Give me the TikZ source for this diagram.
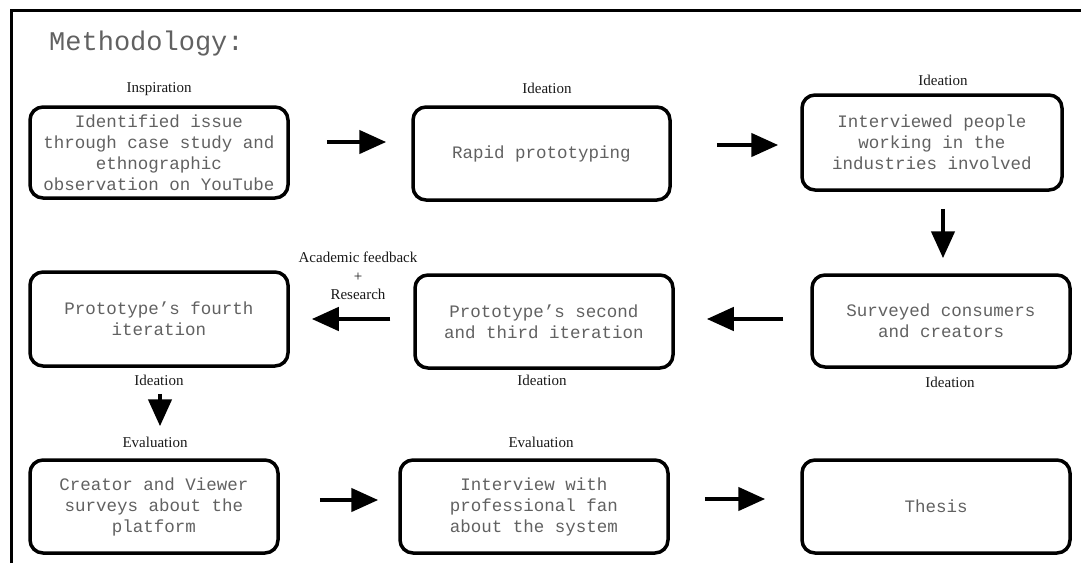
\documentclass[tikz,border=0pt]{standalone}
\usepackage{fontspec}
\setmainfont{Liberation Serif}
\setmonofont{Liberation Mono}
\usetikzlibrary{arrows.meta}
\definecolor{boxtext}{gray}{0.38}
\definecolor{labeltext}{gray}{0.1}
\begin{document}
\begin{tikzpicture}[x=1pt,y=-1pt,
  stepbox/.style={draw, line width=3.5pt, rounded corners=13pt, align=center,
    text=boxtext, font=\fontsize{17.5}{21}\selectfont\ttfamily, inner sep=0pt},
  phase/.style={font=\fontsize{15}{18.5}\selectfont, align=center, inner sep=0pt, text=labeltext},
  flow/.style={line width=4.5pt, -{Triangle[length=27pt,width=23pt]}},
]
\useasboundingbox (0,0) rectangle (1081,563);

% frame: top and left rules
\draw[line width=3pt] (11,563) -- (11,10) -- (1081,10);

% title
\node[anchor=base west, inner sep=0pt, text=boxtext,
      font=\fontsize{27}{30}\selectfont\ttfamily] (title) at (49,50) {Methodology:};

% row 1
\node[stepbox, minimum width=258pt, minimum height=91pt] (b1) at (159,152.5)
  {Identified issue\\through case study and\\ethnographic\\observation on YouTube};
\node[stepbox, minimum width=257pt, minimum height=93pt] (b2) at (541.5,153.5)
  {Rapid prototyping};
\node[stepbox, minimum width=260pt, minimum height=95pt] (b3) at (932,142.5)
  {Interviewed people\\working in the\\industries involved};

% row 2
\node[stepbox, minimum width=258pt, minimum height=94pt] (b4) at (159,319)
  {Prototype’s fourth\\iteration};
\node[stepbox, minimum width=258pt, minimum height=93pt] (b5) at (544,321.5)
  {Prototype’s second\\and third iteration};
\node[stepbox, minimum width=258pt, minimum height=92pt] (b6) at (941,321)
  {Surveyed consumers\\and creators};

% row 3
\node[stepbox, minimum width=248pt, minimum height=93pt] (b7) at (154,506.5)
  {Creator and Viewer\\surveys about the\\platform};
\node[stepbox, minimum width=268pt, minimum height=93pt] (b8) at (534,506.5)
  {Interview with\\professional fan\\about the system};
\node[stepbox, minimum width=268pt, minimum height=93pt] (b9) at (936,506.5)
  {Thesis};

% phase labels
\node[phase] (l1) at (159,89) {Inspiration};
\node[phase] (l2) at (547,88) {Ideation};
\node[phase] (l3) at (943,80) {Ideation};
\node[phase] (l4) at (159,380) {Ideation};
\node[phase] (l5) at (542,380) {Ideation};
\node[phase] (l6) at (950,382) {Ideation};
\node[phase] (l7) at (155,442) {Evaluation};
\node[phase] (l8) at (541,442) {Evaluation};
\node[phase] (lfb) at (358,276) {Academic feedback\\+\\Research};

% flow arrows
\draw[flow] ([xshift=37pt,yshift=10.5pt]b1.east) -- ([xshift=-25pt,yshift=11.5pt]b2.west);
\draw[flow] ([xshift=45pt,yshift=8.5pt]b2.east) -- ([xshift=-22pt,yshift=-2.5pt]b3.west);
\draw[flow] ([xshift=11pt,yshift=-17pt]b3.south) -- ([xshift=2pt,yshift=15pt]b6.north);
\draw[flow] ([xshift=-27pt,yshift=2pt]b6.west) -- ([xshift=32pt,yshift=2.5pt]b5.east);
\draw[flow] ([xshift=-23pt,yshift=2.5pt]b5.west) -- ([xshift=22pt]b4.east);
\draw[flow] ([xshift=1pt,yshift=-26pt]b4.south) -- ([xshift=6pt,yshift=32pt]b7.north);
\draw[flow] ([xshift=40pt,yshift=6.5pt]b7.east) -- ([xshift=-20pt,yshift=6.5pt]b8.west);
\draw[flow] ([xshift=35pt,yshift=7.5pt]b8.east) -- ([xshift=-35pt,yshift=7.5pt]b9.west);
\end{tikzpicture}
\end{document}
